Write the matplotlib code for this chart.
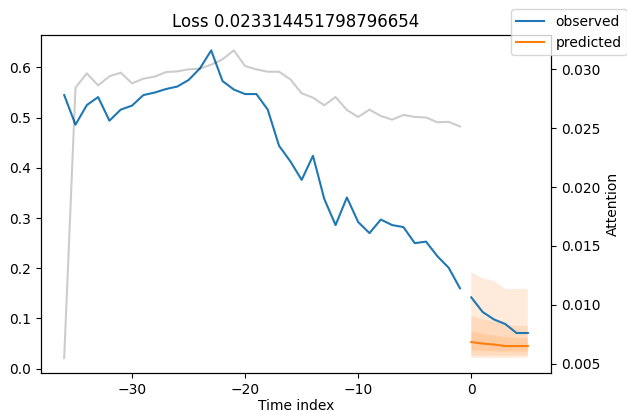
import numpy as np
import matplotlib
matplotlib.use("Agg")
import matplotlib.pyplot as plt

# time axes
x_obs = np.arange(-36, 0)
x_pred = np.arange(0, 6)

observed_past = [0.545, 0.486, 0.525, 0.541, 0.494, 0.516, 0.524, 0.545, 0.550,
                 0.557, 0.562, 0.575, 0.598, 0.634, 0.573, 0.556, 0.547, 0.547,
                 0.516, 0.444, 0.413, 0.376, 0.424, 0.338, 0.286, 0.341, 0.292,
                 0.270, 0.297, 0.286, 0.282, 0.250, 0.253, 0.224, 0.201, 0.160]
observed_future = [0.142, 0.113, 0.098, 0.089, 0.071, 0.071]

predicted = [0.053, 0.050, 0.048, 0.045, 0.045, 0.045]
# quantile bands (lower, upper) from outer to inner
q_outer_lo = [0.021, 0.021, 0.021, 0.021, 0.022, 0.022]
q_outer_hi = [0.192, 0.180, 0.175, 0.159, 0.159, 0.159]
q_mid_lo = [0.026, 0.026, 0.026, 0.026, 0.026, 0.026]
q_mid_hi = [0.105, 0.098, 0.094, 0.088, 0.085, 0.085]
q_in_lo = [0.036, 0.035, 0.035, 0.034, 0.034, 0.034]
q_in_hi = [0.074, 0.069, 0.066, 0.063, 0.061, 0.061]

attention = [0.00548, 0.02845, 0.02966, 0.02864, 0.02941, 0.02972, 0.02881,
             0.02921, 0.02938, 0.02977, 0.02983, 0.03000, 0.03006, 0.03040,
             0.03085, 0.03161, 0.03028, 0.03000, 0.02980, 0.02980, 0.02915,
             0.02797, 0.02760, 0.02695, 0.02765, 0.02655, 0.02596, 0.02658,
             0.02604, 0.02573, 0.02613, 0.02596, 0.02591, 0.02551, 0.02554,
             0.02515]

fig = plt.figure(figsize=(6.27, 4.12), dpi=100)
ax = fig.add_axes([0.0654, 0.0935, 0.8134, 0.8215])

obs_color, pred_color = "C0", "C1"
ax.plot(x_obs, observed_past, color=obs_color, label="observed")
ax.plot(x_pred, observed_future, color=obs_color)
ax.plot(x_pred, predicted, color=pred_color, label="predicted")
for lo, hi in [(q_outer_lo, q_outer_hi), (q_mid_lo, q_mid_hi), (q_in_lo, q_in_hi)]:
    ax.fill_between(x_pred, lo, hi, alpha=0.15, fc=pred_color)

ax.set_title("Loss 0.023314451798796654")
ax.set_xlabel("Time index", labelpad=1.5)

ax2 = ax.twinx()
ax2.plot(x_obs, attention, alpha=0.2, color="k")
ax2.set_ylabel("Attention")

fig.legend(loc="upper right", bbox_to_anchor=(1.0, 0.978), borderaxespad=0)
fig.savefig("out.png", dpi=100)
plt.close(fig)
